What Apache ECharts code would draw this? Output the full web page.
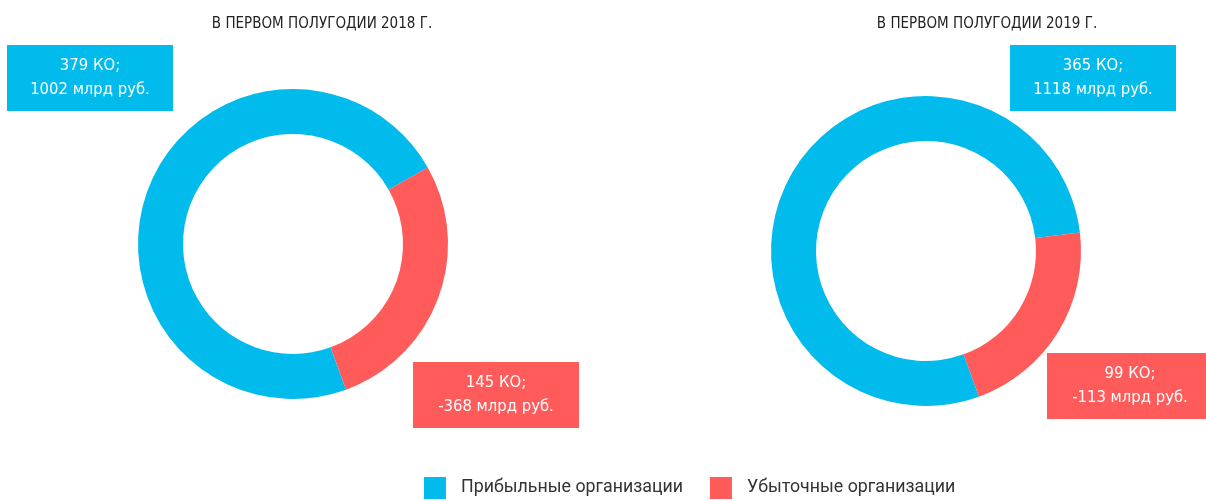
<!DOCTYPE html>
<html lang="ru">
<head>
    <meta charset="UTF-8">
    <title>КО</title>
    <style>
        html, body { margin: 0; padding: 0; background: #fff; }
        #chart { width: 1206px; height: 501px; }
    </style>
</head>
<body>
<div id="chart"></div>
<script src="https://cdn.jsdelivr.net/npm/echarts@6/dist/echarts.min.js"></script>
<script>
    // data
    var categories = ['Прибыльные организации', 'Убыточные организации'];
    var titles = ['В ПЕРВОМ ПОЛУГОДИИ 2018 Г.', 'В ПЕРВОМ ПОЛУГОДИИ 2019 Г.'];
    var count2018 = [379, 145];
    var count2019 = [365, 99];
    var money2018 = [1002, -368];
    var money2019 = [1118, -113];

    var colors = ['#00BBEC', '#FF5B5B'];
    var boxFont = '"Liberation Sans Narrow", "DejaVu Sans Condensed", Roboto, sans-serif';

    // label box centres, per series / per slice
    var boxPos = [
        [[90, 78], [496, 395]],
        [[1093, 78], [1130, 386]]
    ];

    function makeData(counts, money) {
        return categories.map(function (name, i) {
            return {
                name: name,
                value: counts[i],
                money: money[i],
                itemStyle: { color: colors[i] },
                label: { backgroundColor: colors[i] }
            };
        });
    }

    function pieSeries(idx, center, counts, money) {
        return {
            type: 'pie',
            silent: true,
            center: center,
            radius: [110, 155],
            startAngle: -70,
            clockwise: true,
            avoidLabelOverlap: false,
            label: {
                show: true,
                position: 'outside',
                formatter: function (p) {
                    return p.value + ' КО;\n' + p.data.money + ' млрд руб.';
                },
                color: '#fff',
                fontFamily: boxFont,
                fontSize: 16.5,
                lineHeight: 24,
                width: 166,
                align: 'center',
                padding: [9, 0]
            },
            labelLine: { show: false },
            labelLayout: function (params) {
                var p = boxPos[idx][params.dataIndex];
                return { x: p[0], y: p[1], align: 'center', verticalAlign: 'middle' };
            },
            data: makeData(counts, money)
        };
    }

    var myChart = echarts.init(document.getElementById('chart'));
    var option = {
        animation: false,
        color: colors,
        title: [
            {
                text: titles[0], left: 317, top: 12, textAlign: 'center',
                textStyle: { fontFamily: boxFont, fontSize: 15, fontWeight: 'normal', color: '#222' }
            },
            {
                text: titles[1], left: 982, top: 12, textAlign: 'center',
                textStyle: { fontFamily: boxFont, fontSize: 15, fontWeight: 'normal', color: '#222' }
            }
        ],
        legend: {
            data: categories,
            left: 424,
            top: 477,
            padding: 0,
            icon: 'rect',
            itemWidth: 22,
            itemHeight: 22,
            itemGap: 27,
            selectedMode: false,
            textStyle: { fontFamily: 'Roboto, sans-serif', fontSize: 17.8, color: '#333', padding: [0, 0, 0, 10] }
        },
        series: [
            pieSeries(0, [293, 244], count2018, money2018),
            pieSeries(1, [926, 251], count2019, money2019)
        ]
    };
    myChart.setOption(option);
</script>
</body>
</html>
